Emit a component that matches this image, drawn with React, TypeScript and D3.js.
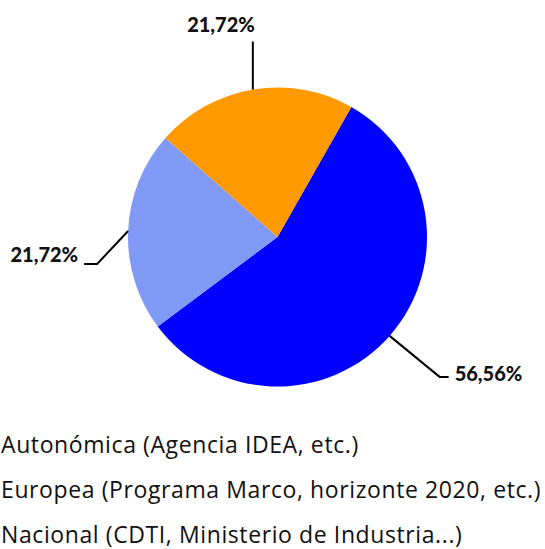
import { useRef, useEffect } from "react";
import * as d3 from "d3";

// data (legend order)
const categories = [
  "Autonómica (Agencia IDEA, etc.)",
  "Europea (Programa Marco, horizonte 2020, etc.)",
  "Nacional (CDTI, Ministerio de Industria...)",
];
const values = [21.72, 21.72, 56.56];
const labels = ["21,72%", "21,72%", "56,56%"];
const colors = ["#7f99f4", "#ff9900", "#0000ff"];

// drawing order of the slices, clockwise from the start angle
const sliceOrder = [2, 0, 1];

const W = 545;
const H = 549;

export default function App() {
  const svgRef = useRef<SVGSVGElement>(null);

  useEffect(() => {
    const svg = d3.select(svgRef.current);
    svg.selectAll("*").remove();

    const cx = 277.5;
    const cy = 237;
    const radius = 149.5;
    const font = "'Open Sans', Lato, sans-serif";

    const color = d3.scaleOrdinal<string, string>().domain(categories).range(colors);

    const data = sliceOrder.map((i) => ({ name: categories[i], value: values[i], label: labels[i] }));

    const start = (29.6 * Math.PI) / 180;
    const pie = d3
      .pie<any>()
      .sort(null)
      .value((d) => d.value)
      .startAngle(start)
      .endAngle(start + 2 * Math.PI);
    const arc = d3.arc<any>().innerRadius(0).outerRadius(radius);

    const g = svg.append("g").attr("transform", `translate(${cx},${cy})`);
    const arcs = pie(data);

    g.selectAll("path")
      .data(arcs)
      .enter()
      .append("path")
      .attr("d", arc)
      .attr("fill", (d) => color(d.data.name));

    // leader lines: elbow offset from the arc edge, then a short horizontal tail
    const leader: Record<string, { dx: number; dy: number; tail: number }> = {
      [categories[2]]: { dx: 50, dy: 41, tail: 9 },
      [categories[0]]: { dx: -31, dy: 33, tail: -13 },
      [categories[1]]: { dx: 0, dy: -48, tail: 0 },
    };

    arcs.forEach((d) => {
      const mid = (d.startAngle + d.endAngle) / 2;
      const x0 = radius * Math.sin(mid);
      const y0 = -radius * Math.cos(mid);
      const L = leader[d.data.name];
      const x1 = x0 + L.dx;
      const y1 = y0 + L.dy;
      const x2 = x1 + L.tail;
      g.append("path")
        .attr("d", d3.line()([[x0, y0], [x1, y1], [x2, y1]]))
        .attr("fill", "none")
        .attr("stroke", "#000")
        .attr("stroke-width", 2);

      const t = g
        .append("text")
        .text(d.data.label)
        .attr("font-family", "Lato, sans-serif")
        .attr("font-weight", 900)
        .attr("font-size", 20)
        .attr("fill", "#111");
      if (L.tail > 0) {
        t.attr("x", x2 + 6).attr("y", y1 + 4).attr("text-anchor", "start");
      } else if (L.tail < 0) {
        t.attr("x", x2 - 6).attr("y", y1 - 2).attr("text-anchor", "end");
      } else {
        t.attr("x", x2 + 2).attr("y", y1 - 10).attr("text-anchor", "end");
      }
    });

    // legend (text only)
    svg
      .append("g")
      .selectAll("text")
      .data(categories)
      .enter()
      .append("text")
      .attr("x", 1)
      .attr("y", (d, i) => 453 + i * 45)
      .text((d) => d)
      .attr("font-family", font)
      .attr("font-size", 23)
      .attr("letter-spacing", 0.6)
      .attr("fill", "#111");
  }, []);

  return (
    <div style={{ position: "absolute", left: 0, top: 0 }}>
      <svg ref={svgRef} width={W} height={H} style={{ display: "block", background: "#fff" }}></svg>
    </div>
  );
}
